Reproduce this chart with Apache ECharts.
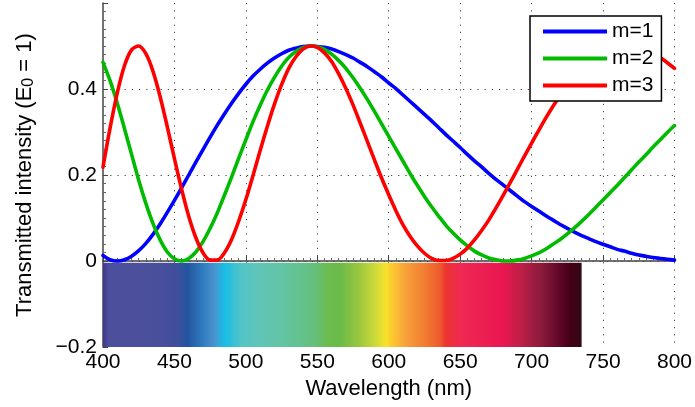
<!DOCTYPE html>
<html>
<head>
<meta charset="utf-8">
<title>Transmitted intensity</title>
<script src="https://cdn.jsdelivr.net/npm/echarts@6/dist/echarts.min.js"></script>
<style>
  html, body { margin: 0; padding: 0; background: #fff; }
  #chart { width: 695px; height: 407px; }
</style>
</head>
<body>
<div id="chart"></div>
<script>
// wavelength samples (nm)
var wavelengths = [
  400, 405, 410, 415, 420, 425, 430, 435, 440, 445, 450, 455, 460, 465, 470, 475, 480, 485, 490, 495,
  500, 505, 510, 515, 520, 525, 530, 535, 540, 545, 550, 555, 560, 565, 570, 575, 580, 585, 590, 595,
  600, 605, 610, 615, 620, 625, 630, 635, 640, 645, 650, 655, 660, 665, 670, 675, 680, 685, 690, 695,
  700, 705, 710, 715, 720, 725, 730, 735, 740, 745, 750, 755, 760, 765, 770, 775, 780, 785, 790, 795, 800
];

// m=1
var m1 = [
  0.013, 0.003, 0.000, 0.003, 0.011, 0.024, 0.041, 0.062, 0.086, 0.113, 0.141, 0.170, 0.200, 0.230, 0.259, 0.288, 0.316, 0.342, 0.367, 0.390,
  0.411, 0.430, 0.446, 0.460, 0.472, 0.482, 0.490, 0.495, 0.499, 0.500, 0.499, 0.497, 0.493, 0.487, 0.480, 0.472, 0.462, 0.452, 0.440, 0.428,
  0.414, 0.401, 0.386, 0.371, 0.356, 0.341, 0.326, 0.310, 0.294, 0.279, 0.264, 0.248, 0.233, 0.219, 0.204, 0.190, 0.177, 0.164, 0.151, 0.138,
  0.127, 0.116, 0.105, 0.095, 0.085, 0.076, 0.067, 0.059, 0.052, 0.045, 0.039, 0.033, 0.027, 0.023, 0.018, 0.014, 0.011, 0.008, 0.006, 0.004, 0.002
];

// m=2
var m2 = [
  0.462, 0.419, 0.367, 0.308, 0.248, 0.188, 0.134, 0.087, 0.049, 0.021, 0.005, 0.000, 0.006, 0.021, 0.045, 0.076, 0.112, 0.153, 0.195, 0.239,
  0.282, 0.324, 0.362, 0.397, 0.427, 0.453, 0.473, 0.487, 0.496, 0.500, 0.498, 0.492, 0.481, 0.466, 0.448, 0.426, 0.402, 0.376, 0.348, 0.319,
  0.290, 0.261, 0.232, 0.203, 0.176, 0.150, 0.126, 0.104, 0.083, 0.065, 0.049, 0.035, 0.023, 0.014, 0.007, 0.003, 0.000, 0.000, 0.002, 0.006,
  0.012, 0.019, 0.028, 0.039, 0.050, 0.063, 0.077, 0.092, 0.108, 0.125, 0.142, 0.159, 0.176, 0.194, 0.212, 0.230, 0.247, 0.265, 0.282, 0.299, 0.315
];

// m=3
var m3 = [
  0.218, 0.310, 0.391, 0.454, 0.491, 0.500, 0.482, 0.441, 0.382, 0.312, 0.238, 0.167, 0.104, 0.054, 0.019, 0.002, 0.002, 0.019, 0.050, 0.093,
  0.143, 0.199, 0.257, 0.313, 0.365, 0.410, 0.448, 0.475, 0.493, 0.500, 0.497, 0.484, 0.464, 0.435, 0.401, 0.363, 0.321, 0.278, 0.235, 0.193,
  0.154, 0.117, 0.084, 0.057, 0.035, 0.018, 0.006, 0.001, 0.001, 0.006, 0.016, 0.030, 0.049, 0.071, 0.095, 0.123, 0.152, 0.182, 0.213, 0.244,
  0.274, 0.304, 0.333, 0.360, 0.385, 0.408, 0.429, 0.447, 0.463, 0.476, 0.486, 0.493, 0.498, 0.500, 0.499, 0.496, 0.491, 0.483, 0.473, 0.461, 0.448
];

var seriesNames = ['m=1', 'm=2', 'm=3'];
var seriesColors = ['#0000ff', '#00bb00', '#ff0000'];

// visible spectrum strip: from 400 to 735 nm, between 0 and -0.2
var specRange = [400, 735];
var specY = [-0.004, -0.2];
var specNm = [400, 404, 440, 452, 459, 470, 478, 485, 496, 508, 528, 549, 557, 566, 580, 591, 598, 603, 612, 626, 636, 640, 650, 680, 692, 706, 720, 727, 735];
var specCol = ['#3f3793', '#4c4f9c', '#4a4f9c', '#3f4f9b', '#23549f', '#2f7cc0', '#4b93cd', '#17bde6', '#50c4c8', '#60c5b9', '#62c4a0', '#66bf7a', '#6bbb4f', '#6abb48', '#9ec73e', '#cfdb38', '#f7e22a', '#fdc630', '#f7a03a', '#f27a30', '#ee5a2e', '#ec3430', '#ef2952', '#ea1751', '#c01f47', '#8d1b3d', '#5e0628', '#430015', '#300818'];

var font = '"Liberation Sans", Arial, Helvetica, sans-serif';

var chart = echarts.init(document.getElementById('chart'));

var stops = specNm.map(function (nm, i) {
  return { offset: (nm - specRange[0]) / (specRange[1] - specRange[0]), color: specCol[i] };
});

var series = [{
  type: 'custom',
  z: 1,
  silent: true,
  data: [[specRange[0], specY[0], specRange[1], specY[1]]],
  renderItem: function (params, api) {
    var p0 = api.coord([api.value(0), api.value(1)]);
    var p1 = api.coord([api.value(2), api.value(3)]);
    return {
      type: 'rect',
      shape: { x: p0[0], y: p0[1], width: p1[0] - p0[0], height: p1[1] - p0[1] },
      style: { fill: new echarts.graphic.LinearGradient(0, 0, 1, 0, stops) }
    };
  }
}];

[m1, m2, m3].forEach(function (vals, i) {
  series.push({
    name: seriesNames[i],
    type: 'line',
    z: 3,
    showSymbol: false,
    smooth: 0.3,
    lineStyle: { color: seriesColors[i], width: 3.6, join: 'round', cap: 'round' },
    itemStyle: { color: seriesColors[i] },
    data: wavelengths.map(function (w, j) { return [w, vals[j]]; })
  });
});

var gridLine = { show: true, lineStyle: { color: '#444', width: 1, type: [1.2, 6] } };

chart.setOption({
  animation: false,
  textStyle: { fontFamily: font },
  grid: { left: 103, right: 20, top: 3, bottom: 60 },
  legend: {
    orient: 'vertical',
    left: 530,
    top: 16,
    data: seriesNames,
    icon: 'rect',
    itemWidth: 64,
    itemHeight: 4,
    itemGap: 6,
    padding: [5, 8, 5, 13],
    backgroundColor: '#fff',
    borderColor: '#000',
    borderWidth: 1.5,
    borderRadius: 0,
    textStyle: { fontFamily: font, fontSize: 21, lineHeight: 21, color: '#000' }
  },
  xAxis: {
    type: 'value',
    min: 400,
    max: 800,
    interval: 50,
    name: 'Wavelength (nm)',
    nameLocation: 'middle',
    nameGap: 28,
    nameTextStyle: { fontFamily: font, fontSize: 22, color: '#000' },
    axisLine: { lineStyle: { color: '#444', width: 1.5 } },
    axisTick: { inside: true, length: 5, lineStyle: { color: '#444' } },
    minorTick: { show: true, splitNumber: 10, length: 3, lineStyle: { color: '#666' } },
    axisLabel: { fontFamily: font, fontSize: 21, color: '#000', margin: 5 },
    splitLine: Object.assign({ showMinLine: false }, gridLine)
  },
  yAxis: {
    type: 'value',
    min: -0.2,
    max: 0.6,
    interval: 0.2,
    name: '{t|Transmitted intensity (E}{s|0}{t| = 1)}',
    nameLocation: 'middle',
    nameRotate: 90,
    nameGap: 67,
    nameTextStyle: {
      fontFamily: font,
      color: '#000',
      rich: {
        t: { fontFamily: font, fontSize: 22, lineHeight: 22, verticalAlign: 'top', color: '#000' },
        s: { fontFamily: font, fontSize: 16, lineHeight: 22, padding: [8, 0, 0, 0], color: '#000' }
      }
    },
    axisLine: { show: true, lineStyle: { color: '#444', width: 1.5 } },
    axisTick: { show: true, inside: true, length: 5, lineStyle: { color: '#444' } },
    minorTick: { show: true, splitNumber: 10, length: 3, lineStyle: { color: '#666' } },
    axisLabel: {
      fontFamily: font,
      fontSize: 21,
      color: '#000',
      margin: 6,
      showMaxLabel: false,
      formatter: function (v) {
        return String(Math.round(v * 10) / 10).replace('-', '\u2212');
      }
    },
    splitLine: Object.assign({ showMinLine: false, showMaxLine: false }, gridLine)
  },
  series: series
});
</script>
</body>
</html>
